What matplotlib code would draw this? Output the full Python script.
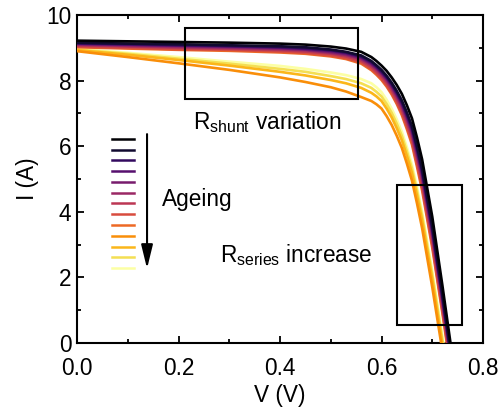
import numpy as np
import matplotlib
matplotlib.use("Agg")
import matplotlib.pyplot as plt
from matplotlib.lines import Line2D
from matplotlib.patches import Rectangle

plt.rcParams['font.family'] = ['Liberation Sans', 'DejaVu Sans']
plt.rcParams['mathtext.default'] = 'regular'

# Shared voltage grid (V)
voltage = [0.0, 0.1, 0.2, 0.3, 0.4, 0.45, 0.5, 0.53, 0.56, 0.58, 0.59,
           0.60, 0.61, 0.62, 0.63, 0.64, 0.65, 0.66, 0.67, 0.68, 0.70, 0.72, 0.74]

# Current (A) for each ageing step, from fresh (0) to most aged (12)
curve_00 = [9.22, 9.20, 9.18, 9.16, 9.13, 9.10, 9.04, 8.98, 8.88, 8.72, 8.60, 8.46, 8.30, 8.10, 7.87, 7.60, 7.25, 6.85, 6.26, 5.60, 3.85, 1.75, -0.45]
curve_01 = [9.16, 9.13, 9.11, 9.08, 9.05, 9.02, 8.95, 8.88, 8.77, 8.60, 8.47, 8.33, 8.15, 7.94, 7.69, 7.40, 7.03, 6.61, 5.99, 5.32, 3.57, 1.50, -0.68]
curve_02 = [9.14, 9.12, 9.09, 9.06, 9.03, 8.99, 8.93, 8.86, 8.74, 8.57, 8.44, 8.29, 8.11, 7.90, 7.64, 7.35, 6.97, 6.55, 5.92, 5.24, 3.49, 1.43, -0.74]
curve_03 = [9.13, 9.10, 9.07, 9.05, 9.01, 8.97, 8.91, 8.84, 8.72, 8.54, 8.41, 8.26, 8.08, 7.87, 7.61, 7.31, 6.92, 6.49, 5.85, 5.17, 3.42, 1.37, -0.79]
curve_04 = [9.12, 9.09, 9.06, 9.03, 8.99, 8.95, 8.88, 8.81, 8.69, 8.51, 8.38, 8.23, 8.05, 7.83, 7.56, 7.26, 6.87, 6.43, 5.79, 5.11, 3.36, 1.31, -0.84]
curve_05 = [9.10, 9.06, 9.03, 9.00, 8.96, 8.93, 8.85, 8.78, 8.66, 8.47, 8.34, 8.19, 8.00, 7.78, 7.51, 7.20, 6.80, 6.35, 5.70, 5.01, 3.26, 1.22, -0.92]
curve_06 = [9.07, 9.04, 9.00, 8.97, 8.93, 8.89, 8.82, 8.74, 8.61, 8.42, 8.28, 8.13, 7.94, 7.71, 7.43, 7.11, 6.70, 6.25, 5.59, 4.89, 3.14, 1.11, -1.01]
curve_07 = [9.04, 9.00, 8.96, 8.94, 8.89, 8.85, 8.77, 8.69, 8.56, 8.36, 8.22, 8.06, 7.86, 7.63, 7.34, 7.02, 6.60, 6.13, 5.46, 4.75, 3.00, 0.99, -1.12]
curve_08 = [9.02, 8.98, 8.94, 8.91, 8.86, 8.82, 8.74, 8.66, 8.52, 8.32, 8.18, 8.02, 7.82, 7.58, 7.29, 6.95, 6.52, 6.05, 5.37, 4.65, 2.90, 0.90, -1.20]
curve_09 = [8.90, 8.72, 8.53, 8.33, 8.10, 7.96, 7.80, 7.67, 7.50, 7.38, 7.28, 7.15, 6.92, 6.65, 6.32, 5.95, 5.47, 4.95, 4.25, 3.50, 1.70, -0.25, -2.20]
curve_10 = [8.93, 8.79, 8.63, 8.46, 8.27, 8.16, 8.02, 7.92, 7.78, 7.63, 7.52, 7.38, 7.15, 6.88, 6.55, 6.18, 5.70, 5.18, 4.48, 3.73, 1.93, -0.05, -2.05]
curve_11 = [8.95, 8.82, 8.67, 8.52, 8.36, 8.27, 8.14, 8.05, 7.92, 7.78, 7.66, 7.52, 7.29, 7.02, 6.69, 6.32, 5.84, 5.32, 4.63, 3.88, 2.08, 0.10, -1.95]
curve_12 = [8.97, 8.85, 8.72, 8.58, 8.45, 8.36, 8.25, 8.17, 8.05, 7.92, 7.80, 7.65, 7.42, 7.15, 6.82, 6.45, 5.97, 5.45, 4.75, 4.00, 2.20, 0.20, -1.85]

curves = [curve_00, curve_01, curve_02, curve_03, curve_04, curve_05, curve_06,
          curve_07, curve_08, curve_09, curve_10, curve_11, curve_12]

x_ticks = [0.0, 0.2, 0.4, 0.6, 0.8]
y_ticks = [0, 2, 4, 6, 8, 10]

colors = plt.cm.inferno(np.linspace(0.0, 1.0, len(curves)))

FS = 16.3

fig = plt.figure(figsize=(4.99, 4.08), dpi=100)
ax = fig.add_axes([0.1543, 0.1593, 0.8137, 0.8037])

for i in range(len(curves) - 1, -1, -1):
    ax.plot(voltage, curves[i], color=colors[i], lw=1.9, solid_joinstyle='round',
            zorder=3 + (len(curves) - i) * 0.01)

ax.set_xlim(0, 0.8)
ax.set_ylim(0, 10)
ax.set_xticks(x_ticks)
ax.set_xticklabels([f"{t:.1f}" for t in x_ticks])
ax.set_yticks(y_ticks)
ax.set_xticks(np.arange(0.1, 0.8, 0.2), minor=True)
ax.set_yticks(np.arange(1, 10, 2), minor=True)
ax.tick_params(which='both', direction='in', top=True, right=True, width=1.3)
ax.tick_params(which='major', length=5, labelsize=FS)
ax.tick_params(axis='x', which='major', pad=10)
ax.tick_params(axis='y', which='major', pad=4)
ax.tick_params(which='minor', length=3)
for s in ax.spines.values():
    s.set_linewidth(1.5)

ax.set_xlabel("V (V)", fontsize=FS, labelpad=3)
ax.set_ylabel("I (A)", fontsize=FS, labelpad=5)

# legend of line swatches only
handles = [Line2D([0], [0], color=c, lw=1.8) for c in colors]
leg = ax.legend(handles, [''] * len(handles), loc='upper left',
                bbox_to_anchor=(0.085, 0.637), frameon=False, fontsize=7,
                handlelength=2.35, handletextpad=0.0, labelspacing=0.08,
                borderpad=0.0, borderaxespad=0.0)

# annotation boxes
ax.add_patch(Rectangle((0.213, 7.45), 0.554 - 0.213, 9.61 - 7.45, fill=False,
                       ec='black', lw=1.5, zorder=5))
ax.add_patch(Rectangle((0.630, 0.54), 0.759 - 0.630, 4.83 - 0.54, fill=False,
                       ec='black', lw=1.5, zorder=5))

ax.text(0.229, 6.74, "R$_{shunt}$ variation", fontsize=FS, va='center', ha='left')
ax.text(0.167, 4.37, "Ageing", fontsize=FS, va='center', ha='left')
ax.text(0.282, 2.69, "R$_{series}$ increase", fontsize=FS, va='center', ha='left')

ax.annotate("", xy=(0.138, 2.27), xytext=(0.138, 6.37),
            arrowprops=dict(arrowstyle='-|>,head_length=0.9,head_width=0.22',
                            color='black', lw=1.5,
                            mutation_scale=16, shrinkA=0, shrinkB=0))

fig.savefig("out.png", dpi=100)
